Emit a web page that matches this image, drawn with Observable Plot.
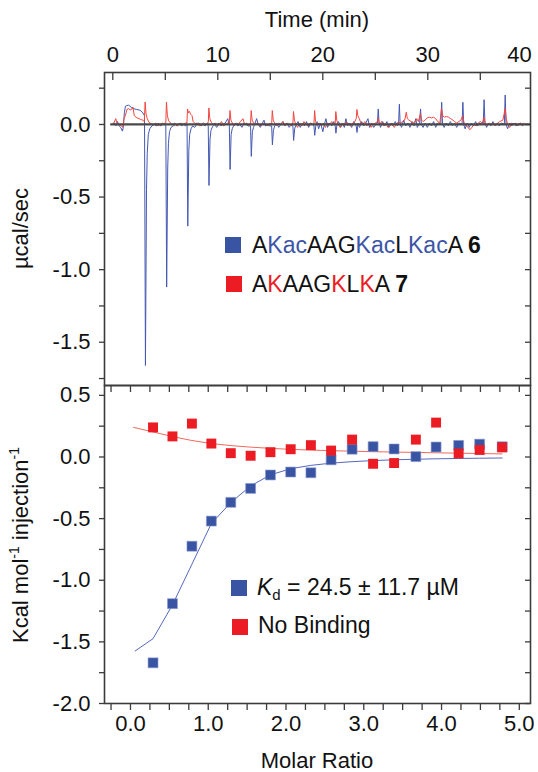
<!DOCTYPE html>
<html><head><meta charset="utf-8">
<script src="https://cdn.jsdelivr.net/npm/d3@7"></script>
<script src="https://cdn.jsdelivr.net/npm/@observablehq/plot@0.6"></script>
<style>
body{margin:0;background:#fff;}
#wrap{position:relative;width:538px;height:772px;}
#wrap svg{position:absolute;left:0;}
</style></head><body><div id="wrap"></div>
<script>
// ---------- DATA ----------
// Raw ITC thermogram: [time (min), power (µcal/sec)]
const blueTrace = [
[-0.05,0.00],[0.15,0.01],[0.3,-0.01],[0.45,0.02],[0.6,-0.01],[0.75,-0.02],[0.92,-0.046],[1.0,-0.02],[1.1,0.08],[1.2,0.126],[1.34,0.13],[1.5,0.133],[1.65,0.125],[1.81,0.115],[2.0,0.108],[2.29,0.103],[2.6,0.098],[2.86,0.08],[3.02,0.06],
[3.11,-1.66],[3.21,-0.45],[3.28,-0.2],[3.38,-0.07],[3.52,-0.03],[3.72,-0.01],[3.95,0.0],[4.15,-0.01],[4.35,0.01],[4.55,-0.01],[4.75,0.0],[4.95,0.01],[5.05,-0.01],
[5.13,-1.12],[5.23,-0.3],[5.3,-0.13],[5.4,-0.05],[5.55,-0.02],[5.75,-0.01],[5.95,0.0],[6.15,-0.01],[6.35,0.01],[6.55,-0.01],[6.75,0.0],[6.95,-0.01],[7.07,0.0],
[7.14,-0.70],[7.24,-0.18],[7.32,-0.07],[7.45,-0.03],[7.6,-0.01],[7.8,-0.02],[8.0,0.0],[8.2,0.01],[8.4,-0.01],[8.6,0.0],[8.8,-0.01],[9.0,0.01],[9.09,-0.01],
[9.16,-0.42],[9.26,-0.1],[9.35,-0.04],[9.5,-0.015],[9.7,0.0],[9.9,-0.02],[10.1,0.01],[10.3,-0.01],[10.5,0.0],[10.7,0.01],[10.95,0.04],[11.1,-0.01],
[11.17,-0.31],[11.27,-0.07],[11.37,-0.03],[11.5,-0.01],[11.7,0.01],[11.9,-0.01],[12.1,0.0],[12.3,-0.02],[12.5,0.01],[12.7,0.0],[12.9,-0.01],[13.12,-0.01],
[13.19,-0.22],[13.29,-0.05],[13.4,-0.02],[13.55,0.01],[13.7,0.04],[13.85,0.0],[14.05,-0.02],[14.25,0.01],[14.4,0.03],[14.55,-0.01],[14.75,0.0],[14.95,-0.01],[15.13,-0.01],
[15.2,-0.14],[15.3,-0.04],[15.42,-0.01],[15.6,0.01],[15.8,-0.02],[16.0,0.0],[16.2,0.02],[16.4,-0.01],[16.6,0.01],[16.8,-0.02],[17.0,0.0],[17.15,-0.01],
[17.22,-0.11],[17.32,-0.03],[17.45,0.0],[17.65,0.02],[17.85,-0.02],[18.05,0.01],[18.25,-0.01],[18.45,0.02],[18.65,-0.02],[18.85,0.01],[19.05,0.0],[19.16,-0.01],
[19.23,-0.075],[19.33,-0.01],[19.45,0.02],[19.6,-0.03],[19.8,0.01],[20.0,-0.05],[20.15,0.0],[20.3,0.04],[20.45,-0.02],[20.65,0.01],[20.85,-0.01],[21.05,0.02],[21.18,-0.01],
[21.25,-0.06],[21.35,0.0],[21.5,0.02],[21.7,-0.02],[21.9,0.01],[22.05,-0.02],[22.2,0.04],[22.35,-0.01],[22.55,0.01],[22.75,-0.02],[22.95,0.02],[23.18,-0.01],
[23.26,-0.055],[23.36,0.01],[23.5,-0.02],[23.7,0.02],[23.9,-0.01],[24.1,0.01],[24.3,0.04],[24.45,-0.02],[24.65,0.01],[24.85,-0.02],[25.05,0.0],[25.2,0.01],
[25.28,0.107],[25.36,0.01],[25.5,-0.02],[25.7,0.02],[25.9,-0.01],[26.1,0.02],[26.3,-0.02],[26.5,0.01],[26.7,-0.01],[26.9,0.02],[27.1,-0.01],[27.22,0.01],
[27.29,0.14],[27.37,0.0],[27.5,-0.02],[27.7,0.03],[27.9,-0.01],[28.1,0.01],[28.3,-0.02],[28.5,0.02],[28.7,-0.01],[28.85,0.04],[29.0,-0.02],[29.22,0.01],
[29.31,0.107],[29.39,0.0],[29.55,-0.02],[29.75,0.01],[29.95,-0.02],[30.15,0.01],[30.35,-0.01],[30.55,0.02],[30.75,-0.02],[30.95,0.01],[31.24,0.0],
[31.32,0.153],[31.4,0.01],[31.55,-0.02],[31.75,0.01],[31.95,-0.01],[32.15,0.02],[32.35,-0.01],[32.55,0.01],[32.75,-0.02],[32.95,0.01],[33.26,0.0],
[33.34,0.153],[33.42,0.0],[33.55,-0.03],[33.75,0.01],[33.95,-0.02],[34.15,0.01],[34.35,-0.01],[34.55,0.02],[34.75,-0.01],[34.95,0.01],[35.28,0.0],
[35.36,0.171],[35.44,0.01],[35.6,-0.02],[35.8,0.01],[36.0,-0.01],[36.2,0.02],[36.4,-0.01],[36.6,0.01],[36.8,-0.01],[37.0,0.01],[37.29,0.0],
[37.37,0.203],[37.45,0.0],[37.6,-0.03],[37.8,0.01],[38.0,-0.01],[38.2,0.01],[38.4,-0.01],[38.6,0.0],[38.8,0.01],[39.0,-0.01],[39.15,0.0]
];
const redTrace = [
[-0.05,0.0],[0.1,0.01],[0.28,0.04],[0.4,0.01],[0.6,0.0],[0.8,-0.01],[0.95,-0.02],[1.08,0.046],[1.2,0.06],[1.34,0.103],[1.5,0.11],[1.65,0.1],[1.8,0.105],[1.91,0.12],[2.05,0.06],[2.29,0.046],[2.5,0.04],[2.65,0.034],[2.85,0.03],[3.0,0.02],
[3.08,0.155],[3.17,0.07],[3.28,0.04],[3.45,0.015],[3.65,0.005],[3.9,0.0],[4.1,0.01],[4.3,-0.01],[4.5,0.0],[4.7,0.01],[4.9,0.0],[5.05,0.01],
[5.11,0.155],[5.2,0.06],[5.32,0.025],[5.5,0.01],[5.7,0.0],[5.9,0.01],[6.1,-0.01],[6.3,0.0],[6.5,0.01],[6.7,0.0],[6.9,0.01],[7.06,0.01],
[7.12,0.107],[7.2,0.08],[7.3,0.09],[7.42,0.07],[7.55,0.06],[7.65,0.02],[7.85,0.005],[8.05,0.01],[8.25,-0.01],[8.45,0.0],[8.65,0.01],[8.85,0.0],[9.05,0.01],[9.1,0.02],
[9.15,0.114],[9.24,0.04],[9.38,0.015],[9.55,0.0],[9.75,0.01],[9.95,-0.01],[10.15,0.0],[10.35,0.02],[10.55,-0.01],[10.75,0.0],[10.95,0.01],[11.1,0.01],
[11.16,0.096],[11.25,0.03],[11.38,0.01],[11.55,-0.01],[11.75,0.01],[11.95,0.0],[12.15,0.02],[12.4,0.04],[12.55,0.0],[12.75,0.01],[12.95,-0.01],[13.12,0.01],
[13.18,0.096],[13.27,0.03],[13.4,0.01],[13.6,0.0],[13.8,0.01],[14.0,-0.01],[14.2,0.0],[14.4,0.01],[14.6,0.0],[14.8,-0.01],[15.0,0.01],[15.13,0.0],
[15.19,0.096],[15.28,0.03],[15.4,0.01],[15.6,-0.01],[15.8,0.01],[16.0,0.0],[16.2,0.02],[16.4,-0.01],[16.6,0.01],[16.8,0.0],[17.0,-0.01],[17.15,0.01],
[17.21,0.089],[17.3,0.03],[17.42,0.0],[17.6,-0.02],[17.8,0.01],[18.0,-0.01],[18.2,0.02],[18.4,0.0],[18.6,-0.01],[18.8,0.01],[19.0,0.0],[19.16,0.01],
[19.22,0.096],[19.31,0.02],[19.45,0.0],[19.65,0.01],[19.85,-0.01],[20.05,0.01],[20.25,-0.02],[20.45,0.01],[20.65,0.0],[20.85,0.02],[21.05,0.0],[21.18,0.01],
[21.24,0.089],[21.33,0.03],[21.45,0.0],[21.65,-0.02],[21.85,0.01],[22.05,-0.01],[22.25,0.02],[22.45,0.0],[22.65,-0.01],[22.85,0.01],[23.05,0.02],[23.18,0.04],
[23.25,0.103],[23.34,0.06],[23.48,0.04],[23.62,0.01],[23.8,0.0],[24.0,0.02],[24.2,-0.01],[24.4,0.01],[24.6,-0.02],[24.8,0.0],[25.0,0.01],[25.2,0.02],
[25.27,0.045],[25.4,0.0],[25.6,0.02],[25.8,-0.01],[26.0,0.01],[26.2,-0.02],[26.4,-0.01],[26.6,0.01],[26.8,-0.02],[27.0,0.0],[27.2,0.02],[27.4,0.01],[27.6,0.02],[27.8,0.03],
[27.95,0.084],[28.05,0.04],[28.2,0.03],[28.4,0.02],[28.6,0.01],[28.8,0.02],[28.95,0.04],[29.1,0.02],
[29.3,0.075],[29.42,0.03],[29.55,0.02],[29.75,0.03],[29.95,0.046],[30.15,0.05],[30.35,0.045],[30.55,0.05],[30.75,0.04],[30.95,0.02],[31.15,0.01],
[31.3,0.11],[31.42,0.06],[31.58,0.05],[31.78,0.055],[31.98,0.05],[32.18,0.04],[32.38,0.03],[32.55,0.02],[32.75,0.01],[32.95,0.02],[33.15,0.03],
[33.32,0.06],[33.45,0.01],[33.65,-0.01],[33.85,-0.02],[34.0,-0.036],[34.2,-0.02],[34.4,0.0],[34.6,-0.01],[34.8,0.01],[35.0,0.02],[35.2,0.01],
[35.35,0.05],[35.47,0.01],[35.65,-0.01],[35.85,0.01],[36.05,0.0],[36.25,0.01],[36.45,-0.01],[36.65,0.01],[36.85,0.02],[37.15,0.03],
[37.37,0.11],[37.47,0.04],[37.6,0.0],[37.8,-0.02],[38.0,0.01],[38.2,0.0],[38.4,0.01],[38.6,-0.01],[38.8,0.01],[39.0,0.0],[39.1,0.01]
];

// Integrated heats
const molarRatio = [0.29,0.54,0.79,1.04,1.29,1.545,1.80,2.06,2.32,2.58,2.85,3.12,3.39,3.67,3.93,4.22,4.49,4.78];
const heatBlue = [-1.67,-1.19,-0.724,-0.52,-0.368,-0.255,-0.146,-0.122,-0.128,-0.023,0.063,0.084,0.065,0.003,0.081,0.094,0.104,0.083];
const heatRed  = [0.240,0.167,0.271,0.109,0.031,0.010,0.039,0.063,0.096,0.052,0.141,-0.055,-0.049,0.141,0.279,0.029,0.057,0.078];
// Fitted curves
const fitRatioBlue = [0.06,0.29,0.54,0.79,1.04,1.29,1.545,1.80,2.06,2.32,2.58,2.85,3.12,3.39,3.67,3.93,4.22,4.49,4.78];
const fitBlue = [-1.574,-1.474,-1.20,-0.87,-0.54,-0.37,-0.235,-0.145,-0.095,-0.068,-0.05,-0.038,-0.029,-0.023,-0.018,-0.015,-0.012,-0.01,-0.008];
const fitRatioRed = [0.04,0.28,0.53,0.78,1.03,1.28,1.545,1.80,2.06,2.32,2.58,2.85,3.12,3.39,3.67,3.93,4.22,4.49,4.78];
const fitRed = [0.24,0.205,0.167,0.135,0.11,0.093,0.08,0.07,0.062,0.056,0.051,0.047,0.043,0.04,0.037,0.034,0.031,0.028,0.025];

// Tick values
const timeLabels = [0,10,20,30];
const timeLastLabel = [40];
const timeTicks = [0,5,10,15,20,25,30,35];
const powerTicks = [0.25,0,-0.25,-0.5,-0.75,-1.0,-1.25,-1.5,-1.75];
const ratioTicks = [-0.25,0,0.25,0.5,0.75,1,1.25,1.5,1.75,2,2.25,2.5,2.75,3,3.25,3.5,3.75,4,4.25,4.5,4.75,5];
const heatTicks = [0.5,0.25,0,-0.25,-0.5,-0.75,-1.0,-1.25,-1.5,-1.75,-2.0];

// ---------- STYLE ----------
const FONT = '"Liberation Sans", Arial, Helvetica, sans-serif';
const frameC = "#3c3c3c";
const blueTraceC = "#4458b2", redTraceC = "#f0463e";
const blueFill = "#3a54a4", redFill = "#ec1c24";
const blueFitC = "#5668bf", redFitC = "#f2685d";
const fmt1 = d => (d < 0 ? "-" : "") + Math.abs(d).toFixed(1);
const W = 538, ML = 104, MR = 8, IW = W - ML - MR;

const style = {fontFamily: FONT, fontSize: "22px", color: "#111", background: "none", overflow: "visible"};

// ---------- TOP PANEL ----------
const H1 = 386, MT1 = 72, MB1 = 1, IH1 = H1 - MT1 - MB1;
const tx = [-0.79, 39.78];
const p1 = Plot.plot({
  width: W, height: H1, marginTop: MT1, marginBottom: MB1, marginLeft: ML, marginRight: MR,
  style,
  x: {domain: tx, axis: null},
  y: {domain: [-1.798, 0.358], axis: null},
  marks: [
    Plot.line(blueTrace, {x: d => d[0], y: d => d[1], stroke: blueTraceC, strokeWidth: 1}),
    Plot.line(redTrace, {x: d => d[0], y: d => d[1], stroke: redTraceC, strokeWidth: 1}),
    Plot.ruleY([0], {x1: -0.2, x2: tx[1], stroke: "#4a4a4a", strokeWidth: 2.2}),
    Plot.frame({stroke: frameC, strokeWidth: 1.6}),
    Plot.axisX(timeLabels, {anchor: "top", tickSize: 0, tickPadding: 11, fill: "#111"}),
    Plot.axisX(timeLastLabel, {anchor: "top", tickSize: 0, tickPadding: 11, textAnchor: "end", dx: -1, fill: "#111"}),
    Plot.tickX(timeTicks, {x: d => d, insetBottom: IH1 - 8, stroke: frameC, strokeWidth: 1.3}),
    Plot.axisY(powerTicks, {anchor: "left", tickSize: 5, tickPadding: 9, stroke: frameC, fill: "#111", strokeWidth: 1.3,
      tickFormat: d => (Math.abs(d * 2 - Math.round(d * 2)) < 1e-9 ? fmt1(d) : "")}),
    Plot.tickY(powerTicks, {y: d => d, insetLeft: IW - 5, stroke: frameC, strokeWidth: 1.3})
  ]
});
p1.style.top = "0px";

// ---------- BOTTOM PANEL ----------
const TOP2 = 384, H2 = 772 - TOP2, MT2 = 1, MB2 = 69, IH2 = H2 - MT2 - MB2;
const p2 = Plot.plot({
  width: W, height: H2, marginTop: MT2, marginBottom: MB2, marginLeft: ML, marginRight: MR,
  style,
  x: {domain: [-0.334, 5.144], axis: null},
  y: {domain: [-2.0, 0.58], axis: null},
  marks: [
    Plot.line(fitRatioBlue, {x: d => d, y: (d, i) => fitBlue[i], stroke: blueFitC, strokeWidth: 1}),
    Plot.line(fitRatioRed, {x: d => d, y: (d, i) => fitRed[i], stroke: redFitC, strokeWidth: 1}),
    Plot.dot(molarRatio, {x: d => d, y: (d, i) => heatBlue[i], symbol: "square", r: 5.6, fill: blueFill, stroke: "#8a97cf", strokeWidth: 0.6}),
    Plot.dot(molarRatio, {x: d => d, y: (d, i) => heatRed[i], symbol: "square", r: 5.6, fill: redFill}),
    Plot.frame({stroke: frameC, strokeWidth: 1.6}),
    Plot.axisX(ratioTicks, {anchor: "bottom", tickSize: 7, tickPadding: 5, stroke: frameC, fill: "#111", strokeWidth: 1.3,
      tickFormat: d => (Number.isInteger(d) ? fmt1(d) : "")}),
    Plot.tickX(ratioTicks, {x: d => d, insetBottom: IH2 - 7, stroke: frameC, strokeWidth: 1.3}),
    Plot.axisY(heatTicks, {anchor: "left", tickSize: 5, tickPadding: 9, stroke: frameC, fill: "#111", strokeWidth: 1.3,
      tickFormat: d => (Math.abs(d * 2 - Math.round(d * 2)) < 1e-9 ? fmt1(d) : "")}),
    Plot.tickY(heatTicks, {y: d => d, insetLeft: IW - 5, stroke: frameC, strokeWidth: 1.3})
  ]
});
p2.style.top = TOP2 + "px";

const wrap = document.getElementById("wrap");
wrap.appendChild(p1);
wrap.appendChild(p2);

// ---------- TEXT: titles, axis labels, legends ----------
function addText(svg, x, y, parts, opts = {}) {
  const t = d3.select(svg).append("text")
    .attr("x", x).attr("y", y)
    .attr("font-family", FONT).attr("font-size", opts.size || 22)
    .attr("fill", "#111")
    .attr("text-anchor", opts.anchor || "start");
  if (opts.rotate) t.attr("transform", `rotate(-90 ${x} ${y})`);
  for (const p of parts) {
    const s = t.append("tspan").text(p.t);
    if (p.c) s.attr("fill", p.c);
    if (p.b) s.attr("font-weight", "bold");
    if (p.i) s.attr("font-style", "italic");
    if (p.fs) s.attr("font-size", p.fs);
    if (p.dy) s.attr("dy", p.dy);
  }
  return t;
}
const cx = ML + IW / 2;
addText(p1, cx, 27, [{t: "Time (min)"}], {anchor: "middle"});
addText(p1, 28, MT1 + IH1 / 2, [{t: "µcal/sec"}], {anchor: "middle", rotate: true});
addText(p2, cx, 768 - TOP2, [{t: "Molar Ratio"}], {anchor: "middle"});
addText(p2, 28, MT2 + IH2 / 2 + 1, [
  {t: "Kcal mol"}, {t: "-1", fs: 14, dy: -9}, {t: " injection", dy: 9}, {t: "-1", fs: 14, dy: -9}
], {anchor: "middle", rotate: true});

// top legend
const bl = "#3d55a6", rd = "#ec1c24";
d3.select(p1).append("rect").attr("x", 225).attr("y", 237).attr("width", 16).attr("height", 16).attr("fill", blueFill);
d3.select(p1).append("rect").attr("x", 226).attr("y", 276).attr("width", 16).attr("height", 16).attr("fill", redFill);
addText(p1, 252, 253, [
  {t: "A"}, {t: "Kac", c: bl}, {t: "AAG"}, {t: "Kac", c: bl}, {t: "L"}, {t: "Kac", c: bl}, {t: "A "}, {t: "6", b: true}
], {size: 23});
addText(p1, 252, 292, [
  {t: "A"}, {t: "K", c: rd}, {t: "AAG"}, {t: "K", c: rd}, {t: "L"}, {t: "K", c: rd}, {t: "A "}, {t: "7", b: true}
], {size: 23});

// bottom legend
d3.select(p2).append("rect").attr("x", 231).attr("y", 580 - TOP2).attr("width", 16).attr("height", 16).attr("fill", blueFill);
d3.select(p2).append("rect").attr("x", 232).attr("y", 619 - TOP2).attr("width", 16).attr("height", 16).attr("fill", redFill);
addText(p2, 257, 595 - TOP2, [
  {t: "K", i: true}, {t: "d", fs: 15, dy: 5}, {t: " = 24.5 ± 11.7 µM", dy: -5}
], {size: 23});
addText(p2, 258, 633 - TOP2, [{t: "No Binding"}], {size: 23});
</script>
</body></html>
